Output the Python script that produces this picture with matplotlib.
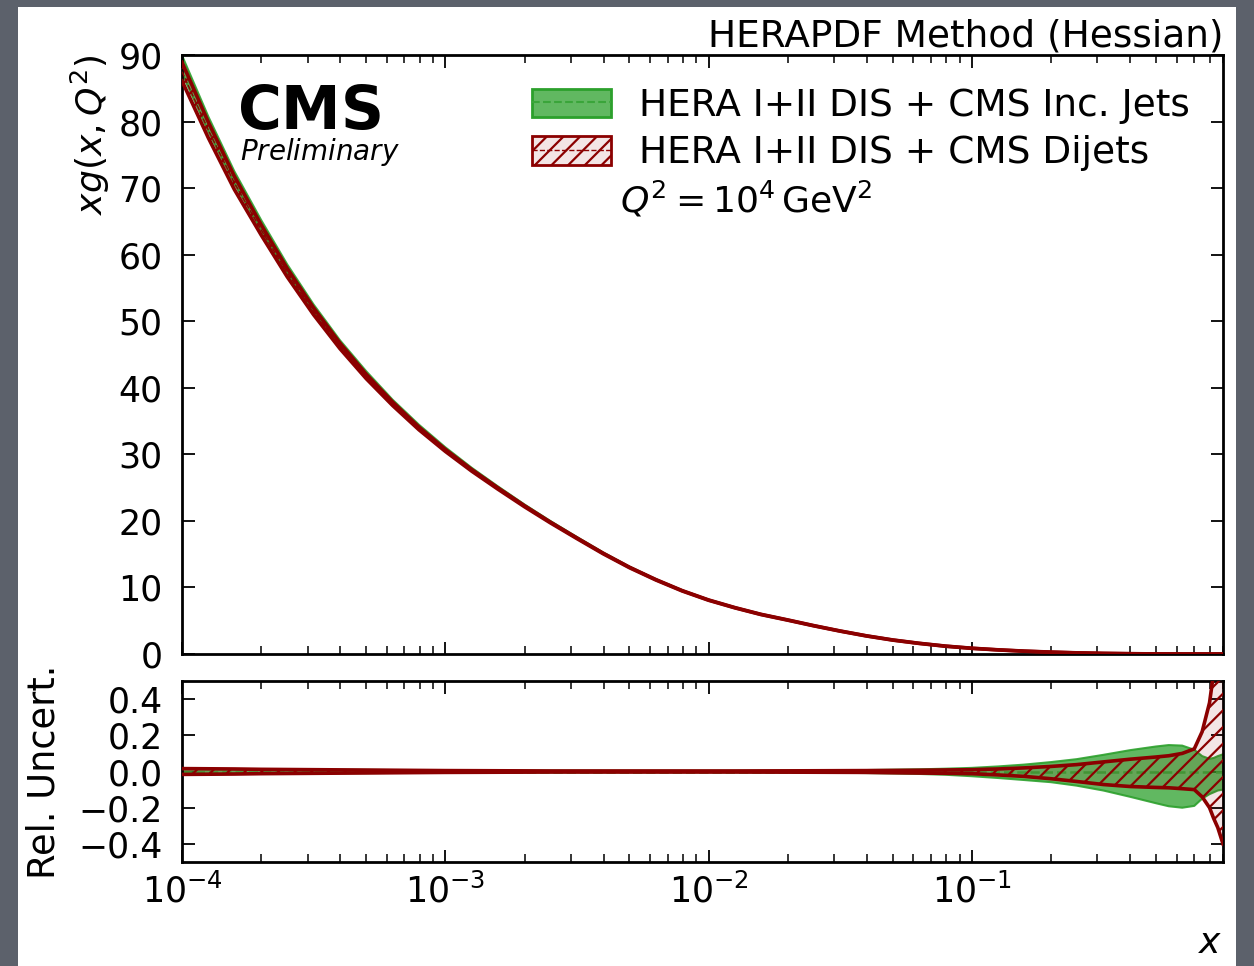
import numpy as np
import matplotlib
matplotlib.use("Agg")
import matplotlib.pyplot as plt
from matplotlib.patches import Patch, Rectangle
from matplotlib.lines import Line2D
from matplotlib.ticker import FuncFormatter

# ---------------- data ----------------
x = [1.00e-4, 1.26e-4, 1.58e-4, 2.00e-4, 2.51e-4, 3.16e-4, 3.98e-4, 5.01e-4, 6.31e-4, 7.94e-4,
     1.00e-3, 1.26e-3, 1.58e-3, 2.00e-3, 2.51e-3, 3.16e-3, 3.98e-3, 5.01e-3, 6.31e-3, 7.94e-3,
     1.00e-2, 1.26e-2, 1.58e-2, 2.00e-2, 2.51e-2, 3.16e-2, 3.98e-2, 5.01e-2, 6.31e-2, 7.94e-2,
     0.100, 0.126, 0.158, 0.2, 0.25, 0.316, 0.4, 0.5, 0.56, 0.63, 0.7, 0.75, 0.8, 0.83, 0.86, 0.9]

xg_dijets = [87.5, 78.7, 70.8, 63.7, 57.3, 51.5, 46.3, 41.7, 37.6, 33.9,
             30.6, 27.6, 24.9, 22.2, 19.75, 17.4, 15.1, 13.0, 11.15, 9.5,
             8.1, 6.95, 5.95, 5.1, 4.25, 3.45, 2.72, 2.1, 1.6, 1.18,
             0.86, 0.62, 0.43, 0.28, 0.17, 0.09, 0.042, 0.016, 0.009, 0.0045,
             0.002, 0.001, 0.0005, 0.0003, 0.00015, 0.00005]

xg_incjets = [88.6, 79.6, 71.6, 64.4, 57.9, 52.0, 46.7, 42.1, 37.9, 34.2,
              30.85, 27.8, 25.07, 22.34, 19.87, 17.5, 15.18, 13.06, 11.19, 9.53,
              8.12, 6.96, 5.96, 5.1, 4.25, 3.45, 2.72, 2.1, 1.6, 1.18,
              0.86, 0.62, 0.43, 0.28, 0.17, 0.09, 0.042, 0.016, 0.009, 0.0045,
              0.002, 0.001, 0.0005, 0.0003, 0.00015, 0.00005]

# relative uncertainties (up / down)
incjets_up = [0.015, 0.014, 0.013, 0.012, 0.011, 0.010, 0.0095, 0.009, 0.008, 0.0075,
              0.007, 0.0065, 0.006, 0.0055, 0.005, 0.0048, 0.0045, 0.0043, 0.0042, 0.0041,
              0.004, 0.0042, 0.0046, 0.005, 0.0058, 0.0068, 0.008, 0.0098, 0.012, 0.0155,
              0.02, 0.028, 0.038, 0.052, 0.068, 0.092, 0.118, 0.138, 0.146, 0.143,
              0.12, 0.085, 0.07, 0.075, 0.085, 0.095]
incjets_dn = [-0.015, -0.014, -0.013, -0.012, -0.011, -0.010, -0.0095, -0.009, -0.008, -0.0075,
              -0.007, -0.0065, -0.006, -0.0055, -0.005, -0.0048, -0.0045, -0.0043, -0.0042, -0.0041,
              -0.004, -0.0043, -0.0048, -0.0053, -0.006, -0.007, -0.0085, -0.0105, -0.0135, -0.018,
              -0.026, -0.036, -0.047, -0.059, -0.078, -0.105, -0.14, -0.175, -0.192, -0.20,
              -0.19, -0.15, -0.125, -0.115, -0.105, -0.10]

dijets_up = [0.016, 0.015, 0.014, 0.012, 0.011, 0.010, 0.009, 0.008, 0.007, 0.006,
             0.005, 0.0045, 0.004, 0.0035, 0.003, 0.003, 0.003, 0.003, 0.003, 0.003,
             0.003, 0.003, 0.0033, 0.0036, 0.004, 0.0045, 0.005, 0.006, 0.007, 0.0085,
             0.01, 0.014, 0.02, 0.028, 0.038, 0.053, 0.068, 0.08, 0.087, 0.10,
             0.125, 0.22, 0.38, 0.55, 0.75, 1.0]
dijets_dn = [-0.016, -0.015, -0.014, -0.012, -0.011, -0.010, -0.009, -0.008, -0.007, -0.006,
             -0.005, -0.0045, -0.004, -0.0035, -0.003, -0.003, -0.003, -0.003, -0.003, -0.003,
             -0.003, -0.003, -0.0033, -0.0036, -0.004, -0.0045, -0.005, -0.007, -0.0085, -0.01,
             -0.012, -0.019, -0.027, -0.04, -0.055, -0.072, -0.083, -0.088, -0.09, -0.095,
             -0.10, -0.14, -0.20, -0.26, -0.31, -0.40]

label_inc = "HERA I+II DIS + CMS Inc. Jets"
label_dij = "HERA I+II DIS + CMS Dijets"

# ---------------- style ----------------
plt.rcParams['font.family'] = ['DejaVu Sans']
plt.rcParams['mathtext.fontset'] = 'dejavusans'
plt.rcParams['hatch.color'] = 'darkred'
plt.rcParams['hatch.linewidth'] = 1.6

GREEN = 'tab:green'
RED = 'darkred'

W, H = 1254, 966
fig = plt.figure(figsize=(W / 100, H / 100), dpi=100)
fig.patch.set_facecolor('#5c616b')
fig.patches.append(Rectangle((18 / W, 0), (1236 - 18) / W, (H - 7) / H,
                             transform=fig.transFigure, facecolor='white',
                             edgecolor='none', zorder=-10))

L, R = 182 / W, 1223 / W
ax = fig.add_axes([L, 1 - 654 / H, R - L, (654 - 55) / H])
axr = fig.add_axes([L, 1 - 862 / H, R - L, (862 - 681) / H], sharex=ax)

xa = np.array(x)
cd = np.array(xg_dijets)
ci = np.array(xg_incjets)
iu, idn = np.array(incjets_up), np.array(incjets_dn)
du, ddn = np.array(dijets_up), np.array(dijets_dn)

green_face = (0.172, 0.627, 0.172, 0.75)
pink_face = (0.545, 0.0, 0.0, 0.10)

def draw(a, ylo_i, yhi_i, cen_i, ylo_d, yhi_d, cen_d=None):
    a.fill_between(xa, ylo_i, yhi_i, facecolor=green_face, edgecolor='none', zorder=2)
    a.plot(xa, yhi_i, color=GREEN, lw=1.5, alpha=0.9, zorder=2.1)
    a.plot(xa, ylo_i, color=GREEN, lw=1.5, alpha=0.9, zorder=2.1)
    a.plot(xa, cen_i, color='#3aa53a', lw=1.8, ls='--', zorder=2.2)
    a.fill_between(xa, ylo_d, yhi_d, facecolor=pink_face, edgecolor=RED,
                   hatch='//', linewidth=0, zorder=3)
    a.plot(xa, yhi_d, color=RED, lw=2.6, zorder=3.1)
    a.plot(xa, ylo_d, color=RED, lw=2.6, zorder=3.1)
    if cen_d is not None:
        a.plot(xa, cen_d, color=RED, lw=1.0, ls='--', zorder=3.2)

draw(ax, ci * (1 + idn), ci * (1 + iu), ci, cd * (1 + ddn), cd * (1 + du), cd)
draw(axr, idn, iu, np.zeros_like(xa), ddn, du)

ax.set_xscale('log')
ax.set_xlim(1e-4, 0.9)
ax.set_ylim(0, 90)
ax.set_yticks(np.arange(0, 91, 10))
axr.set_ylim(-0.5, 0.5)
axr.set_yticks([-0.4, -0.2, 0.0, 0.2, 0.4])
axr.yaxis.set_major_formatter(FuncFormatter(
    lambda v, p: ('\u2212%.1f' % abs(v)) if v < -1e-9 else '%.1f' % abs(v)))
ax.tick_params(axis='x', labelbottom=False)

for a in (ax, axr):
    for s in a.spines.values():
        s.set_linewidth(2)
    a.tick_params(which='both', direction='in', top=True, right=True)
    a.tick_params(which='major', length=9, width=1.3, labelsize=25)
    a.tick_params(which='minor', length=6, width=1.1)
    a.tick_params(axis='y', which='minor', left=False, right=False)
    a.tick_params(axis='y', pad=14)
    a.tick_params(axis='x', pad=8)

ax.set_ylabel(r'$xg(x,Q^2)$', fontsize=26, loc='top')
ax.yaxis.set_label_coords(-0.067, 1.0)
axr.set_ylabel('Rel. Uncert.', fontsize=26.5)
axr.yaxis.set_label_coords(-0.115, 0.5)
axr.set_xlabel(r'$x$', fontsize=26, loc='right')
axr.xaxis.set_label_coords(1.0, -0.355)

ax.set_title('HERAPDF Method (Hessian)', loc='right', fontsize=27, pad=5)

ax.text(55 / 1041, (654 - 129) / 599, r'$\mathbf{CMS}$', transform=ax.transAxes,
        fontsize=43, va='baseline', ha='left')
ax.text(58 / 1041, (654 - 160) / 599, r'$\mathit{Preliminary}$', transform=ax.transAxes,
        fontsize=20, va='baseline', ha='left')

h_inc = (Patch(facecolor=green_face, edgecolor=GREEN, lw=2),
         Line2D([], [], color='#3aa53a', lw=1.5, ls='--'))
h_dij = (Patch(facecolor=pink_face, edgecolor=RED, hatch='//', lw=2),
         Line2D([], [], color=RED, lw=1.0, ls='--'))
ax.legend([h_inc, h_dij], [label_inc, label_dij], loc='upper right',
          bbox_to_anchor=((1190 - 182) / 1041, (654 - 88) / 599),
          frameon=False, fontsize=27, borderaxespad=0, borderpad=0,
          handlelength=2.1, handleheight=0.8, handletextpad=0.75,
          labelspacing=0.3)

ax.text((620 - 182) / 1041, (654 - 213) / 599, r'$Q^2 = 10^4\,\mathrm{GeV}^2$',
        transform=ax.transAxes, fontsize=26, va='baseline', ha='left')

fig.savefig('out.png', dpi=100, facecolor=fig.get_facecolor())
